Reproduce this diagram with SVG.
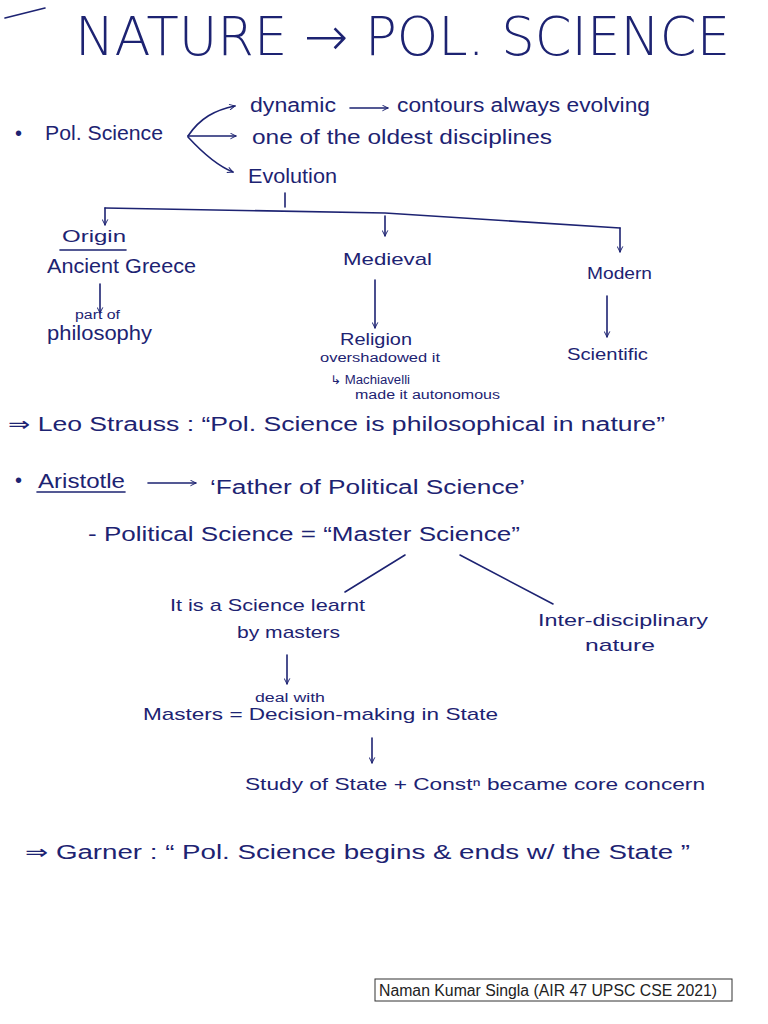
<svg xmlns="http://www.w3.org/2000/svg" width="768" height="1024" viewBox="0 0 768 1024">
<defs>
<style>
text{font-family:"Liberation Sans","DejaVu Sans",sans-serif;fill:#1d2372}
.t{font-size:20px}
.s{font-size:17px}
.xs{font-size:12px}
.ln{fill:none;stroke:#1d2372;stroke-width:1.6;stroke-linecap:round}
.arr{marker-end:url(#ah)}
</style>
<marker id="ah" viewBox="0 0 10 10" refX="9" refY="5" markerWidth="7" markerHeight="7" orient="auto-start-reverse" markerUnits="userSpaceOnUse">
<path d="M1,1 L9,5 L1,9" fill="none" stroke="#1d2372" stroke-width="1.4"/>
</marker>
</defs>
<rect width="768" height="1024" fill="#ffffff"/>

<g id="connectors">
<path class="ln" d="M5,18 L45,8"/>
<path class="ln arr" d="M188,136 C200,118 215,110 235,106"/>
<path class="ln arr" d="M188,136 L236,136"/>
<path class="ln arr" d="M188,137 C200,150 215,165 233,172"/>
<path class="ln arr" d="M350,108 L388,108"/>
<path class="ln" d="M285,193 L285,207"/>
<path class="ln" d="M105,208 L385,213 L620,228"/>
<path class="ln arr" d="M105,208 L105,225"/>
<path class="ln arr" d="M385,216 L385,236"/>
<path class="ln arr" d="M620,228 L620,252"/>
<path class="ln" d="M60,250 L126,250"/>
<path class="ln arr" d="M100,284 L100,313"/>
<path class="ln arr" d="M375,280 L375,328"/>
<path class="ln arr" d="M607,296 L607,337"/>
<path class="ln" d="M37,492 L125,492"/>
<path class="ln arr" d="M148,483 L196,483"/>
<path class="ln" d="M405,555 L345,592"/>
<path class="ln" d="M460,555 L553,604"/>
<path class="ln arr" d="M287,655 L287,684"/>
<path class="ln arr" d="M372,738 L372,763"/>
</g>

<g id="title"><text x="75" y="55" font-size="54" textLength="655" lengthAdjust="spacingAndGlyphs" style="font-family:'DejaVu Sans',sans-serif;font-weight:200">NATURE → POL. SCIENCE</text></g>

<g id="pol-science"><text class="t" x="15" y="140">•</text><text class="t" x="45" y="140" textLength="118" lengthAdjust="spacingAndGlyphs">Pol. Science</text></g>
<g id="dynamic"><text class="t" x="250" y="112" textLength="86" lengthAdjust="spacingAndGlyphs">dynamic</text></g>
<g id="contours"><text class="t" x="397" y="112" textLength="253" lengthAdjust="spacingAndGlyphs">contours always evolving</text></g>
<g id="oldest"><text class="t" x="252" y="144" textLength="300" lengthAdjust="spacingAndGlyphs">one of the oldest disciplines</text></g>
<g id="evolution"><text class="t" x="248" y="183" textLength="89" lengthAdjust="spacingAndGlyphs">Evolution</text></g>

<g id="origin"><text class="s" x="62" y="242" textLength="64" lengthAdjust="spacingAndGlyphs">Origin</text><text class="t" x="47" y="273" textLength="149" lengthAdjust="spacingAndGlyphs">Ancient Greece</text></g>
<g id="philosophy"><text class="xs" x="75" y="319" textLength="45" lengthAdjust="spacingAndGlyphs">part of</text><text class="t" x="47" y="340" textLength="105" lengthAdjust="spacingAndGlyphs">philosophy</text></g>

<g id="medieval"><text class="s" x="343" y="265" textLength="89" lengthAdjust="spacingAndGlyphs">Medieval</text></g>
<g id="religion"><text class="s" x="340" y="345" textLength="72" lengthAdjust="spacingAndGlyphs">Religion</text><text class="xs" x="320" y="362" textLength="120" lengthAdjust="spacingAndGlyphs">overshadowed it</text></g>
<g id="machiavelli"><text class="xs" x="330" y="384" textLength="80" lengthAdjust="spacingAndGlyphs">↳ Machiavelli</text><text class="xs" x="355" y="399" textLength="145" lengthAdjust="spacingAndGlyphs">made it autonomous</text></g>

<g id="modern"><text class="s" x="587" y="279" textLength="65" lengthAdjust="spacingAndGlyphs">Modern</text></g>
<g id="scientific"><text class="s" x="567" y="360" textLength="81" lengthAdjust="spacingAndGlyphs">Scientific</text></g>

<g id="strauss"><text class="t" x="8" y="431" textLength="657" lengthAdjust="spacingAndGlyphs">⇒ Leo Strauss : “Pol. Science is philosophical in nature”</text></g>

<g id="aristotle"><text class="t" x="15" y="487">•</text><text class="t" x="38" y="488" textLength="87" lengthAdjust="spacingAndGlyphs">Aristotle</text></g>
<g id="father"><text class="t" x="210" y="494" textLength="315" lengthAdjust="spacingAndGlyphs">‘Father of Political Science’</text></g>
<g id="master-science"><text class="t" x="88" y="541" textLength="432" lengthAdjust="spacingAndGlyphs">-    Political Science = “Master Science”</text></g>

<g id="learnt"><text class="s" x="170" y="611" textLength="195" lengthAdjust="spacingAndGlyphs">It is a Science learnt</text><text class="s" x="237" y="638" textLength="103" lengthAdjust="spacingAndGlyphs">by masters</text></g>
<g id="inter"><text class="s" x="538" y="626" textLength="170" lengthAdjust="spacingAndGlyphs">Inter-disciplinary</text><text class="s" x="585" y="651" textLength="70" lengthAdjust="spacingAndGlyphs">nature</text></g>

<g id="decision"><text class="xs" x="255" y="702" textLength="70" lengthAdjust="spacingAndGlyphs">deal with</text><text class="s" x="143" y="720" textLength="355" lengthAdjust="spacingAndGlyphs">Masters = Decision-making in State</text></g>
<g id="study"><text class="s" x="245" y="790" textLength="460" lengthAdjust="spacingAndGlyphs">Study of State + Constⁿ became core concern</text></g>

<g id="garner"><text class="t" x="25" y="859" textLength="665" lengthAdjust="spacingAndGlyphs">⇒ Garner : “ Pol. Science begins &amp; ends w/ the State ”</text></g>

<g id="credit"><rect x="375" y="979" width="357" height="22" fill="none" stroke="#333" stroke-width="1"/><text x="379" y="996" font-size="16" textLength="338" lengthAdjust="spacingAndGlyphs" style="fill:#222">Naman Kumar Singla (AIR 47 UPSC CSE 2021)</text></g>
</svg>
